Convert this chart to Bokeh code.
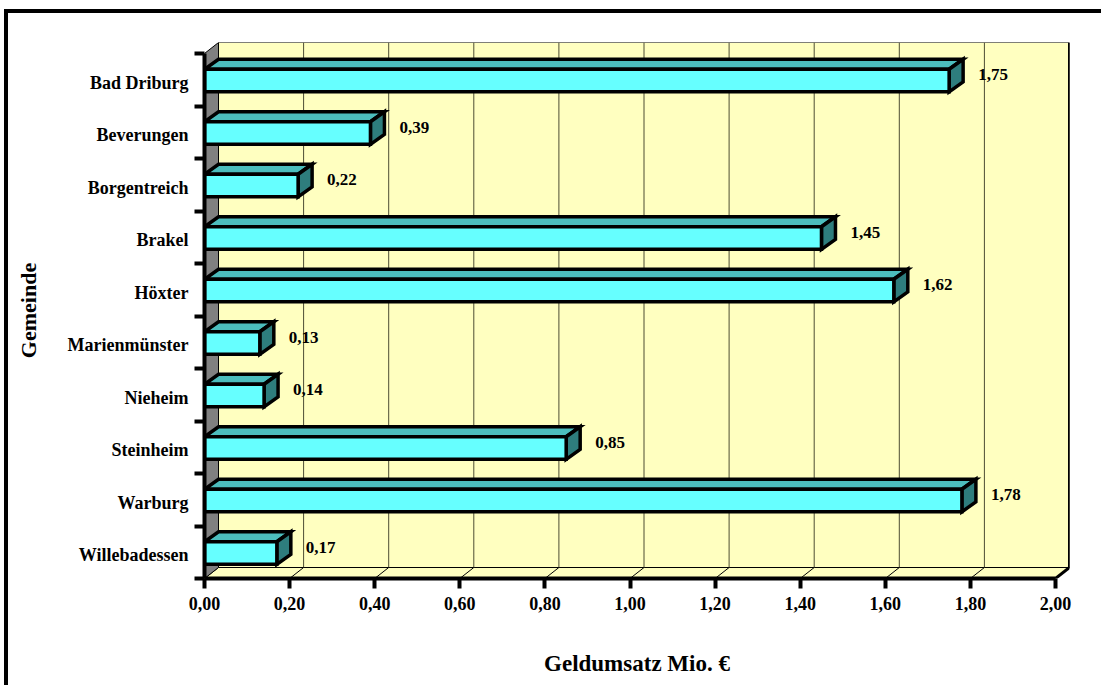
from bokeh.plotting import figure
from bokeh.models import FixedTicker, ColumnDataSource, Range1d
from bokeh.embed import file_html
from bokeh.resources import INLINE
from bokeh.core.properties import value

# Geldumsatz je Gemeinde (Mio. €), listed top to bottom
gemeinden = ["Bad Driburg", "Beverungen", "Borgentreich", "Brakel", "Höxter",
             "Marienmünster", "Nieheim", "Steinheim", "Warburg", "Willebadessen"]
umsatz = [1.75, 0.39, 0.22, 1.45, 1.62, 0.13, 0.14, 0.85, 1.78, 0.17]

x_ticks = [0.0, 0.2, 0.4, 0.6, 0.8, 1.0, 1.2, 1.4, 1.6, 1.8, 2.0]
x_tick_labels = ["0,00", "0,20", "0,40", "0,60", "0,80", "1,00",
                 "1,20", "1,40", "1,60", "1,80", "2,00"]

# ---- layout / style ----
FONT = "Liberation Serif"
X_MAX = 2.0
N = len(gemeinden)
PX_X = 425.5          # pixels per Mio. €
PX_Y = 52.5           # pixels per category band
WALL_DX, WALL_DY = 14 / PX_X, 11 / PX_Y   # depth of walls/floor
BAR_DX, BAR_DY = 14 / PX_X, 10 / PX_Y     # depth of the bars
BAR_LO, BAR_HI = 0.27, 0.70               # front face within the band

FRAME_W = PX_X * (X_MAX + WALL_DX)
FRAME_H = PX_Y * (N + WALL_DY)
ORIGIN_X, ORIGIN_Y = 8, 13
LEFT, TOP = 204, 42
W, H = 1105 - ORIGIN_X, 689 - ORIGIN_Y

YELLOW = "#FFFFC0"
GREY = "#808080"
CYAN = "#66FFFF"
TEAL_TOP = "#4CBDBD"
TEAL_END = "#2E7D7D"

p = figure(width=W, height=H, output_backend="svg", toolbar_location=None,
           x_range=Range1d(0, X_MAX + WALL_DX), y_range=Range1d(0, N + WALL_DY),
           min_border_left=LEFT - ORIGIN_X, min_border_top=TOP - ORIGIN_Y,
           min_border_right=int(W - (LEFT - ORIGIN_X) - FRAME_W),
           min_border_bottom=int(H - (TOP - ORIGIN_Y) - FRAME_H))
p.styles = {"margin-left": "4px", "margin-top": "9px",
            "border-left": "4px solid black", "border-top": "4px solid black"}
p.outline_line_color = None
p.grid.visible = False
p.background_fill_color = "white"
p.border_fill_color = "white"

# back wall
p.quad(left=WALL_DX, right=X_MAX + WALL_DX, bottom=WALL_DY, top=N + WALL_DY,
       fill_color=YELLOW, line_color="black", line_width=1)
p.line([X_MAX + WALL_DX, X_MAX + WALL_DX], [WALL_DY, N + WALL_DY],
       line_color="black", line_width=3)
# floor
p.patch([0, X_MAX, X_MAX + WALL_DX, WALL_DX], [0, 0, WALL_DY, WALL_DY],
        fill_color=YELLOW, line_color="black", line_width=1)
p.line([X_MAX, X_MAX + WALL_DX], [0, WALL_DY], line_color="black", line_width=3)
# side wall
p.patch([0, WALL_DX, WALL_DX, 0], [0, WALL_DY, N + WALL_DY, N],
        fill_color=GREY, line_color="black", line_width=1)

# gridlines on the back wall and their feet on the floor
grid_x = [t for t in x_ticks if 0 < t < X_MAX]
p.segment(x0=[t + WALL_DX for t in grid_x], y0=WALL_DY,
          x1=[t + WALL_DX for t in grid_x], y1=N + WALL_DY,
          line_color="#4d4d33", line_width=1)
p.segment(x0=grid_x, y0=0, x1=[t + WALL_DX for t in grid_x], y1=WALL_DY,
          line_color="black", line_width=1)

# bars
ypos = [N - 1 - k for k in range(N)]
bot = [y + BAR_LO for y in ypos]
top = [y + BAR_HI for y in ypos]
src = ColumnDataSource(dict(v=umsatz, bot=bot, top=top,
                            lab=[f"{v:.2f}".replace(".", ",") for v in umsatz],
                            lx=[v + 29 / PX_X for v in umsatz],
                            ly=[y + 0.6 for y in ypos]))

top_xs = [[0, v, v + BAR_DX, BAR_DX] for v in umsatz]
top_ys = [[t, t, t + BAR_DY, t + BAR_DY] for t in top]
end_xs = [[v, v, v + BAR_DX, v + BAR_DX] for v in umsatz]
end_ys = [[b, t, t + BAR_DY, b + BAR_DY] for b, t in zip(bot, top)]

p.patches(top_xs, top_ys, fill_color=TEAL_TOP, line_color="black",
          line_width=3.5, line_join="miter")
p.patches(end_xs, end_ys, fill_color=TEAL_END, line_color="black",
          line_width=3.5, line_join="miter")
p.quad(left=0, right="v", bottom="bot", top="top", source=src,
       fill_color=CYAN, line_color="black", line_width=3.5, line_join="miter")

p.text(x="lx", y="ly", text="lab", source=src, text_font=value(FONT),
       text_font_style="bold", text_font_size="17px", text_align="left",
       text_baseline="middle", text_color="black")

# x axis
xa = p.xaxis[0]
xa.ticker = FixedTicker(ticks=x_ticks, minor_ticks=[])
xa.major_label_overrides = dict(zip(x_ticks, x_tick_labels))
xa.bounds = (0, X_MAX)
xa.axis_line_width = 4
xa.major_tick_line_width = 4
xa.major_tick_out = 10
xa.major_tick_in = 0
xa.minor_tick_line_color = None
xa.major_label_text_font = FONT
xa.major_label_text_font_style = "bold"
xa.major_label_text_font_size = "18px"
xa.major_label_text_color = "black"
xa.major_label_standoff = 8
xa.axis_label = "Geldumsatz Mio. €"
xa.axis_label_text_font = FONT
xa.axis_label_text_font_style = "bold"
xa.axis_label_text_font_size = "23px"
xa.axis_label_text_color = "black"
xa.axis_label_standoff = 38

# y axis (categories)
ya = p.yaxis[0]
centers = [y + 0.44 for y in ypos]
ya.ticker = FixedTicker(ticks=centers, minor_ticks=list(range(N + 1)))
ya.major_label_overrides = dict(zip(centers, gemeinden))
ya.bounds = (0, N)
ya.axis_line_width = 4
ya.major_tick_out = 0
ya.major_tick_in = 0
ya.minor_tick_out = 10
ya.minor_tick_in = 0
ya.minor_tick_line_width = 4
ya.minor_tick_line_color = "black"
ya.major_label_text_font = FONT
ya.major_label_text_font_style = "bold"
ya.major_label_text_font_size = "18px"
ya.major_label_text_color = "black"
ya.major_label_standoff = 6
ya.axis_label = "Gemeinde"
ya.axis_label_text_font = FONT
ya.axis_label_text_font_style = "bold"
ya.axis_label_text_font_size = "22px"
ya.axis_label_text_color = "black"
ya.axis_label_standoff = 24

open("out.html", "w").write(file_html(p, INLINE))
